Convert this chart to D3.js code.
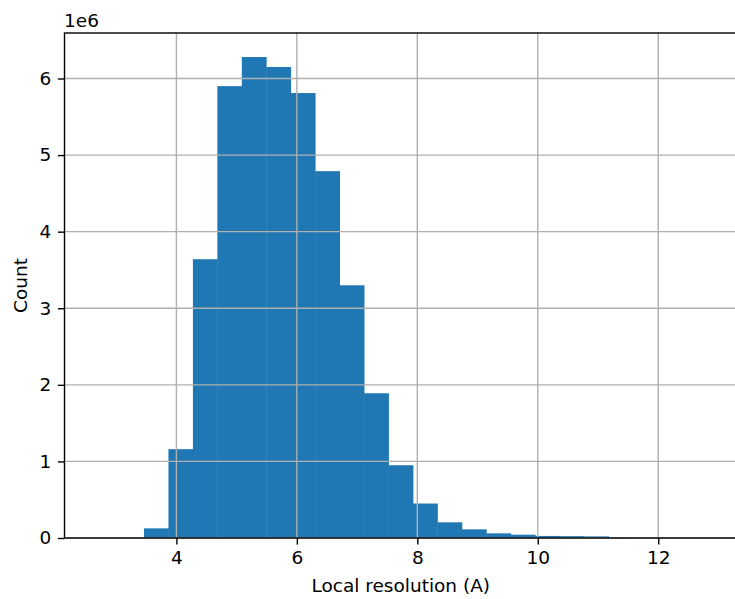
<!DOCTYPE html>
<html>
<head>
<meta charset="utf-8">
<script src="https://cdn.jsdelivr.net/npm/d3@7.9.0/dist/d3.min.js"></script>
<style>
  body { margin: 0; background: #fff; }
  svg { font-family: "DejaVu Sans", sans-serif; }
</style>
</head>
<body>
<svg width="735" height="599"></svg>
<script>
// histogram bins (25 bins from 2.65 to 12.8), counts in millions
const binStart = 2.65;
const binWidth = 0.406;
const counts = [0, 0, 0.126, 1.16, 3.64, 5.90, 6.28, 6.15, 5.81, 4.79, 3.30, 1.89,
  0.95, 0.45, 0.205, 0.113, 0.061, 0.043, 0.027, 0.024, 0.021, 0.003, 0.001, 0, 0.001];
const xTicks = [4, 6, 8, 10, 12];
const yTicks = [0, 1, 2, 3, 4, 5, 6];

const bins = counts.map((c, i) => ({ x0: binStart + i * binWidth, x1: binStart + (i + 1) * binWidth, v: c }));

const svg = d3.select('svg');
const mLeft = 64.5, mRight = 737, mTop = 33, mBottom = 538;
const fs = 18.5;

const x = d3.scaleLinear().domain([2.142, 13.308]).range([mLeft, mRight]);
const y = d3.scaleLinear().domain([0, 6.594]).range([mBottom, mTop]);

// bars
svg.append('g').selectAll('rect')
  .data(bins.filter(d => d.v > 0))
  .join('rect')
  .attr('x', d => x(d.x0))
  .attr('width', d => x(d.x1) - x(d.x0) + 0.4)
  .attr('y', d => y(d.v))
  .attr('height', d => mBottom - y(d.v))
  .attr('fill', '#1f77b4');

// grid on top
const grid = svg.append('g').attr('stroke', '#b0b0b0').attr('stroke-width', 1.4);
xTicks.forEach(t => {
  grid.append('line').attr('x1', x(t)).attr('x2', x(t)).attr('y1', mTop).attr('y2', mBottom);
});
yTicks.forEach(t => {
  grid.append('line').attr('x1', mLeft).attr('x2', mRight).attr('y1', y(t)).attr('y2', y(t));
});

// axes
const xAxis = svg.append('g').attr('transform', `translate(0,${mBottom})`)
  .call(d3.axisBottom(x).tickValues(xTicks).tickFormat(d3.format('d')).tickSize(6.6).tickPadding(6.6));
const yAxis = svg.append('g').attr('transform', `translate(${mLeft},0)`)
  .call(d3.axisLeft(y).tickValues(yTicks).tickFormat(d3.format('d')).tickSize(6.6).tickPadding(6.6));
[xAxis, yAxis].forEach(a => {
  a.select('.domain').remove();
  a.selectAll('line').attr('stroke', '#000').attr('stroke-width', 1.4);
  a.selectAll('text').attr('font-size', fs).attr('fill', '#000')
    .attr('font-family', '"DejaVu Sans", sans-serif');
});

// spines
svg.append('rect')
  .attr('x', mLeft).attr('y', mTop)
  .attr('width', mRight - mLeft).attr('height', mBottom - mTop)
  .attr('fill', 'none').attr('stroke', '#000').attr('stroke-width', 1.4);

// labels
svg.append('text').attr('x', 64).attr('y', 26.5).attr('font-size', fs).text('1e6');
svg.append('text').attr('x', (mLeft + mRight) / 2).attr('y', 592)
  .attr('text-anchor', 'middle').attr('font-size', fs).text('Local resolution (A)');
svg.append('text').attr('transform', `translate(27,${(mTop + mBottom) / 2}) rotate(-90)`)
  .attr('text-anchor', 'middle').attr('font-size', fs).text('Count');
</script>
</body>
</html>
